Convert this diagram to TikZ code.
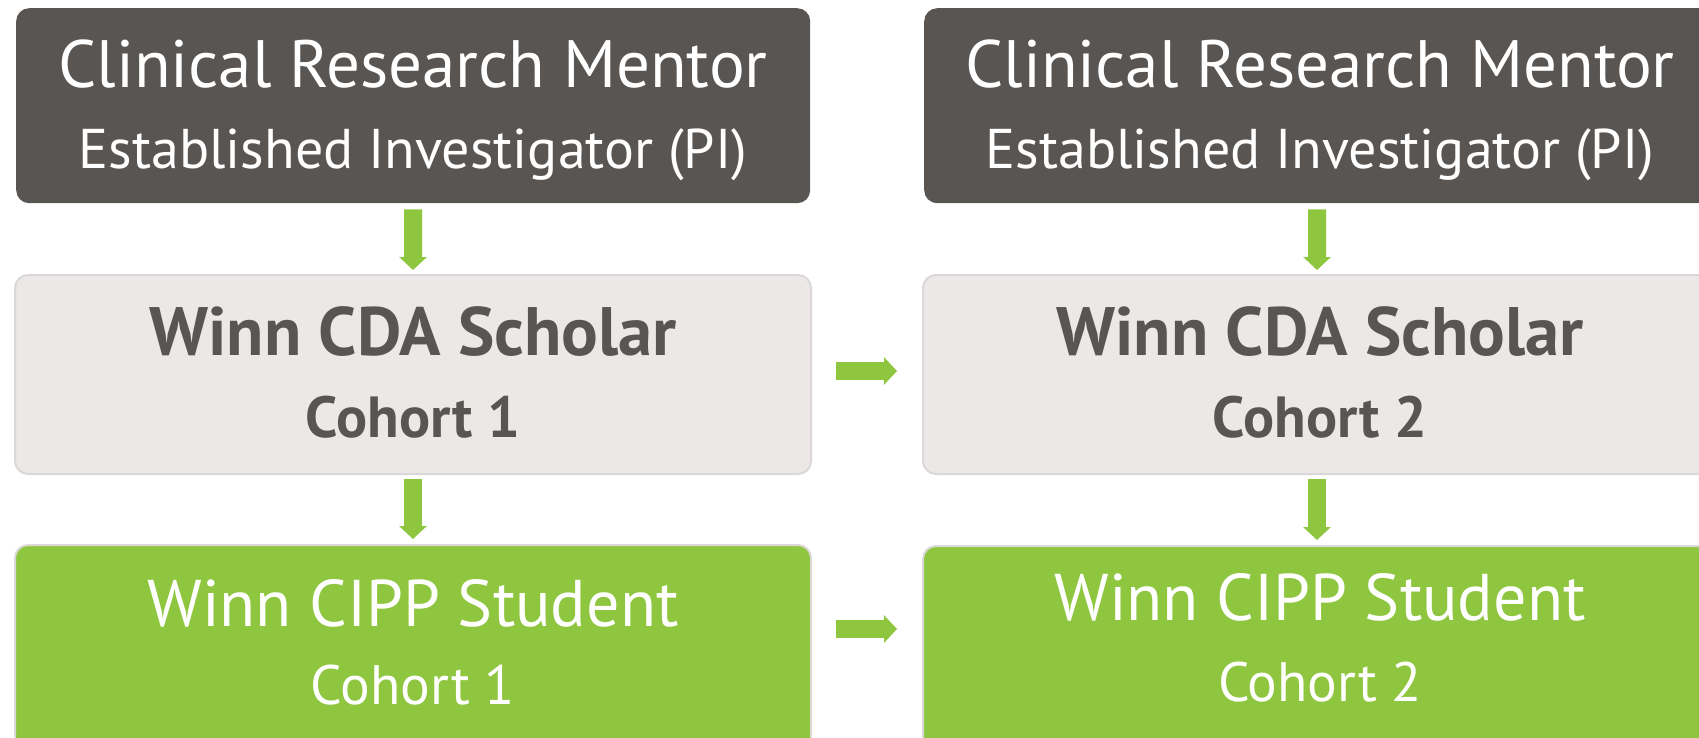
\documentclass[tikz,border=0pt]{standalone}
\usepackage{fontspec}
\setmainfont{PT Sans}
\usetikzlibrary{arrows.meta}
\definecolor{darkbox}{HTML}{595553}
\definecolor{lightbox}{HTML}{EDE8E8}
\definecolor{lightedge}{HTML}{DCD8D8}
\definecolor{wgreen}{HTML}{8FC640}
\begin{document}
\begin{tikzpicture}[x=1pt,y=-1pt]
\useasboundingbox (0,0) rectangle (1699,737);
\tikzset{
  box/.style={rounded corners=13pt, inner sep=0pt, anchor=north west, minimum width=796pt},
  mentorbox/.style={box, fill=darkbox, minimum width=794pt, minimum height=195pt},
  scholarbox/.style={box, fill=lightbox, draw=lightedge, line width=2pt, minimum height=199pt},
  studentbox/.style={box, fill=wgreen, draw=lightedge, line width=2pt, minimum height=220pt},
  bigwhite/.style={anchor=base, text=white, font=\fontsize{67}{70}\selectfont},
  smallwhite/.style={anchor=base, text=white, font=\fontsize{56}{60}\selectfont},
  bigdark/.style={anchor=base, text=darkbox, font=\fontsize{68.5}{70}\selectfont\bfseries},
  smalldark/.style={anchor=base, text=darkbox, font=\fontsize{58}{60}\selectfont\bfseries},
  studentbig/.style={anchor=base, text=white, font=\fontsize{66}{70}\selectfont},
  studentsmall/.style={anchor=base, text=white, font=\fontsize{55.5}{60}\selectfont},
  flow/.style={draw=wgreen, line width=18pt, -{Triangle[width=27pt,length=13pt]}}
}
% left column
\node[mentorbox] (t1) at (16,8) {};
\node[scholarbox] (m1) at (14,274) {};
\node[studentbox] (b1) at (14,544) {};
% right column
\node[mentorbox] (t2) at (924,8) {};
\node[scholarbox] (m2) at (922,274) {};
\node[studentbox] (b2) at (922,545) {};
% texts left
\node[bigwhite] (t1a) at (413,87) {Clinical Research Mentor};
\node[smallwhite] (t1b) at (413,168) {Established Investigator (PI)};
\node[bigdark] (m1a) at (413,355) {Winn CDA Scholar};
\node[smalldark] (m1b) at (413,437) {Cohort 1};
\node[studentbig] (b1a) at (413,626) {Winn CIPP Student};
\node[studentsmall] (b1b) at (413,704) {Cohort 1};
% texts right
\node[bigwhite] (t2a) at (1320,87) {Clinical Research Mentor};
\node[smallwhite] (t2b) at (1320,168) {Established Investigator (PI)};
\node[bigdark] (m2a) at (1320,355) {Winn CDA Scholar};
\node[smalldark] (m2b) at (1320,437) {Cohort 2};
\node[studentbig] (b2a) at (1320,620) {Winn CIPP Student};
\node[studentsmall] (b2b) at (1320,701) {Cohort 2};
% arrows
\draw[flow] ([yshift=-6pt]t1.south) -- ([yshift=4pt]m1.north);
\draw[flow] ([yshift=-4pt]m1.south) -- ([yshift=5pt]b1.north);
\draw[flow] ([xshift=-4pt,yshift=-6pt]t2.south) -- ([xshift=-4pt,yshift=4pt]m2.north);
\draw[flow] ([xshift=-4pt,yshift=-4pt]m2.south) -- ([xshift=-4pt,yshift=5pt]b2.north);
\draw[flow] ([xshift=24pt,yshift=3.5pt]m1.east) -- ([xshift=-25pt,yshift=3.5pt]m2.west);
\draw[flow] ([xshift=24pt,yshift=-85pt]b1.north east) -- ([xshift=-25pt,yshift=-84pt]b2.north west);
\end{tikzpicture}
\end{document}
